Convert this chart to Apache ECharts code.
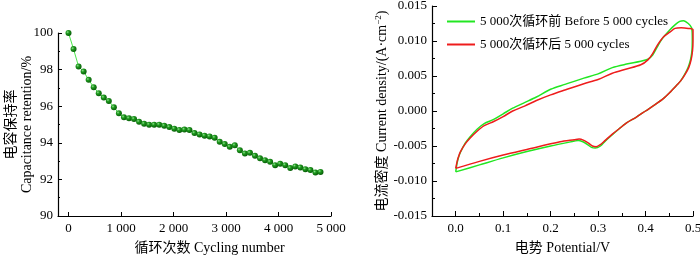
<!DOCTYPE html>
<html>
<head>
<meta charset="utf-8">
<script src="https://cdn.jsdelivr.net/npm/echarts@6/dist/echarts.min.js"></script>
<style>
  html, body { margin: 0; padding: 0; background: #fff; }
  #chart { width: 700px; height: 259px; }
</style>
</head>
<body>
<div id="chart"></div>
<script>
// capacitance retention vs cycle number (left panel)
const cycles = [0, 96, 192, 288, 384, 480, 576, 672, 768, 864, 960, 1056, 1152, 1248, 1344, 1440, 1536, 1632, 1728, 1824,
  1920, 2016, 2112, 2208, 2304, 2400, 2496, 2592, 2688, 2784, 2880, 2976, 3072, 3168, 3264, 3360, 3456, 3552, 3648, 3744,
  3840, 3936, 4032, 4128, 4224, 4320, 4416, 4512, 4608, 4704, 4800];
const retention = [100.0, 99.12, 98.17, 97.90, 97.44, 97.04, 96.71, 96.47, 96.29, 95.94, 95.61, 95.39, 95.34, 95.30, 95.15,
  95.04, 94.99, 94.99, 94.99, 94.93, 94.86, 94.77, 94.70, 94.72, 94.70, 94.53, 94.46, 94.39, 94.35, 94.28, 94.06, 93.93,
  93.78, 93.86, 93.59, 93.42, 93.45, 93.29, 93.15, 93.05, 92.96, 92.78, 92.85, 92.78, 92.62, 92.71, 92.65, 92.56, 92.51,
  92.38, 92.41];
const cycleTicks = [0, 1000, 2000, 3000, 4000, 5000];

// CV loops (right panel): forward scan then reverse scan
const potBefore = [0.000, 0.003, 0.006, 0.010, 0.020, 0.030, 0.045, 0.060, 0.080, 0.100, 0.120, 0.145, 0.170, 0.200, 0.230,
  0.270, 0.300, 0.330, 0.360, 0.390, 0.405, 0.415, 0.425, 0.435, 0.450, 0.462, 0.472, 0.480, 0.490, 0.497,
  0.4985, 0.498, 0.495, 0.490, 0.483, 0.474, 0.466, 0.452, 0.438, 0.420, 0.400, 0.380, 0.360, 0.345, 0.330, 0.315,
  0.305, 0.294, 0.286, 0.278, 0.268, 0.258, 0.250, 0.200, 0.150, 0.100, 0.050, 0.000];
const curBefore = [-0.0087, -0.0074, -0.0066, -0.0059, -0.0046, -0.0037, -0.0026, -0.0018, -0.0012, -0.0004, 0.0004, 0.0012,
  0.0020, 0.0031, 0.0038, 0.0047, 0.0053, 0.0062, 0.0067, 0.0071, 0.0074, 0.0080, 0.0092, 0.0103, 0.0115, 0.0123, 0.0128,
  0.0129, 0.0125, 0.0119,
  0.0105, 0.0088, 0.0074, 0.0063, 0.0053, 0.0043, 0.0037, 0.0027, 0.0018, 0.0009, 0.0000, -0.0009, -0.0017, -0.0025,
  -0.0034, -0.0043, -0.0050, -0.0053, -0.0052, -0.0048, -0.0044, -0.0042, -0.0043, -0.0050, -0.0058, -0.0067, -0.0077,
  -0.0087];
const potAfter = [0.000, 0.003, 0.006, 0.010, 0.020, 0.030, 0.045, 0.060, 0.080, 0.100, 0.120, 0.145, 0.170, 0.200, 0.230,
  0.270, 0.300, 0.330, 0.360, 0.390, 0.405, 0.415, 0.425, 0.438, 0.452, 0.462, 0.475, 0.490, 0.500,
  0.500, 0.499, 0.496, 0.491, 0.483, 0.474, 0.466, 0.452, 0.438, 0.420, 0.400, 0.380, 0.360, 0.345, 0.330, 0.315,
  0.305, 0.296, 0.288, 0.280, 0.270, 0.260, 0.250, 0.220, 0.150, 0.100, 0.050, 0.000];
const curAfter = [-0.0082, -0.0072, -0.0065, -0.0058, -0.0047, -0.0039, -0.0029, -0.0021, -0.0015, -0.0008, 0.0000, 0.0007,
  0.0015, 0.0023, 0.0030, 0.0039, 0.0045, 0.0054, 0.0060, 0.0066, 0.0073, 0.0082, 0.0094, 0.0106, 0.0113, 0.0118, 0.0119,
  0.0118, 0.0116,
  0.0100, 0.0086, 0.0073, 0.0062, 0.0052, 0.0043, 0.0037, 0.0027, 0.0018, 0.0009, 0.0000, -0.0009, -0.0017, -0.0025,
  -0.0033, -0.0042, -0.0048, -0.0051, -0.0050, -0.0046, -0.0042, -0.0040, -0.0041, -0.0044, -0.0055, -0.0063, -0.0072,
  -0.0082];
const potentialTicks = [0, 0.1, 0.2, 0.3, 0.4, 0.5];
const potentialMinor = [0.05, 0.15, 0.25, 0.35, 0.45];

const FONT = "'Liberation Serif', 'Noto Sans CJK SC', serif";
const axisLine = { show: true, onZero: false, lineStyle: { color: '#000', width: 1.2 } };
const label = { color: '#000', fontFamily: FONT, fontSize: 13 };

let option = {
    animation: false,
    textStyle: { fontFamily: FONT },
    grid: [
        { left: 58, top: 33, right: 369, bottom: 43, containLabel: false, outerBoundsMode: 'none' },
        { left: 432, top: 6, right: 7, bottom: 43, containLabel: false, outerBoundsMode: 'none' }
    ],
    legend: {
        data: ['5 000次循环前 Before 5 000 cycles', '5 000次循环后 5 000 cycles'],
        orient: 'vertical',
        left: 442,
        top: 9,
        icon: 'rect',
        itemWidth: 28,
        itemHeight: 2,
        itemGap: 8,
        textStyle: { color: '#000', fontFamily: FONT, fontSize: 13, lineHeight: 15 }
    },
    xAxis: [
        {
            type: 'value', gridIndex: 0, min: -200, max: 5000, position: 'bottom',
            name: '循环次数 Cycling number', nameLocation: 'middle', nameGap: 25, nameMoveOverlap: false,
            nameTextStyle: { color: '#000', fontFamily: FONT, fontSize: 14, padding: [0, 0, 0, 30] },
            axisLine: axisLine,
            axisTick: { show: true, inside: true, length: 4, customValues: cycleTicks, lineStyle: { color: '#000' } },
            axisLabel: Object.assign({ margin: 6, customValues: cycleTicks,
                formatter: v => v === 0 ? '0' : (v / 1000) + ' 000' }, label),
            splitLine: { show: false }
        },
        {
            type: 'value', gridIndex: 1, min: -0.05, max: 0.5, position: 'bottom',
            name: '电势 Potential/V', nameLocation: 'middle', nameGap: 25, nameMoveOverlap: false,
            nameTextStyle: { color: '#000', fontFamily: FONT, fontSize: 14 },
            axisLine: axisLine,
            axisTick: { show: true, inside: true, length: 5, customValues: potentialTicks, lineStyle: { color: '#000' } },
            axisLabel: Object.assign({ margin: 6, customValues: potentialTicks, formatter: v => v.toFixed(1) }, label),
            splitLine: { show: false }
        },
        {
            type: 'value', gridIndex: 1, min: -0.05, max: 0.5, position: 'bottom', offset: 0,
            axisLine: { show: false, onZero: false },
            axisTick: { show: true, inside: true, length: 3, customValues: potentialMinor, lineStyle: { color: '#000' } },
            axisLabel: { show: false },
            splitLine: { show: false }
        }
    ],
    yAxis: [
        {
            type: 'value', gridIndex: 0, min: 90, max: 100, interval: 2,
            name: '电容保持率\nCapacitance retention/%', nameLocation: 'middle', nameGap: 23, nameRotate: 90,
            nameMoveOverlap: false,
            nameTextStyle: { color: '#000', fontFamily: FONT, fontSize: 14, lineHeight: 16 },
            axisLine: axisLine,
            axisTick: { show: true, inside: true, length: 4, lineStyle: { color: '#000' } },
            minorTick: { show: true, splitNumber: 2, length: 2, lineStyle: { color: '#000' } },
            axisLabel: Object.assign({ margin: 5 }, label),
            splitLine: { show: false }
        },
        {
            type: 'value', gridIndex: 1, min: -0.015, max: 0.015, interval: 0.005,
            name: '电流密度 Current density/(A·cm{sup|−2})', nameLocation: 'middle', nameGap: 42, nameRotate: 90,
            nameMoveOverlap: false,
            nameTextStyle: { color: '#000', fontFamily: FONT, fontSize: 14, lineHeight: 16,
                rich: { sup: { fontFamily: FONT, fontSize: 9, verticalAlign: 'top', color: '#000' } } },
            axisLine: axisLine,
            axisTick: { show: true, inside: true, length: 5, lineStyle: { color: '#000' } },
            minorTick: { show: true, splitNumber: 2, length: 3, lineStyle: { color: '#000' } },
            axisLabel: Object.assign({ margin: 5, formatter: v => v.toFixed(3) }, label),
            splitLine: { show: false }
        }
    ],
    series: [
        {
            type: 'line', xAxisIndex: 0, yAxisIndex: 0,
            data: cycles.map((c, i) => [c, retention[i]]),
            symbol: 'circle', symbolSize: 6,
            lineStyle: { color: '#4ce64c', width: 1 },
            itemStyle: {
                color: {
                    type: 'radial', x: 0.35, y: 0.35, r: 0.7,
                    colorStops: [{ offset: 0, color: '#8fe08f' }, { offset: 0.35, color: '#1f9a1f' }, { offset: 1, color: '#055805' }]
                },
                borderWidth: 0
            }
        },
        {
            name: '5 000次循环前 Before 5 000 cycles',
            type: 'line', xAxisIndex: 1, yAxisIndex: 1,
            data: potBefore.map((p, i) => [p, curBefore[i]]),
            symbol: 'none', smooth: 0.3,
            lineStyle: { color: '#22e622', width: 1.5 },
            itemStyle: { color: '#22e622' }
        },
        {
            name: '5 000次循环后 5 000 cycles',
            type: 'line', xAxisIndex: 1, yAxisIndex: 1,
            data: potAfter.map((p, i) => [p, curAfter[i]]),
            symbol: 'none', smooth: 0.3,
            lineStyle: { color: '#ee1c1c', width: 1.5 },
            itemStyle: { color: '#ee1c1c' }
        }
    ]
};

let myChart = echarts.init(document.getElementById('chart'));
myChart.setOption(option);
</script>
</body>
</html>
